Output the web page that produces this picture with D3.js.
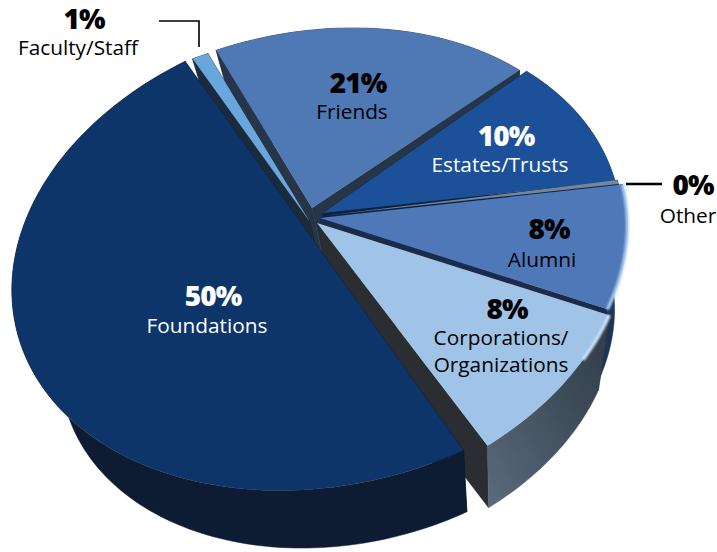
<!DOCTYPE html>
<html>
<head>
<meta charset="utf-8">
<script src="https://cdn.jsdelivr.net/npm/d3@7"></script>
<style>
html, body { margin: 0; background: #fff; }
text { font-family: "Open Sans", sans-serif; text-anchor: middle; }
</style>
</head>
<body>
<script>
// labels and printed values
var names = ["Foundations", "Faculty/Staff", "Friends", "Estates/Trusts", "Other", "Alumni", "Corporations/Organizations"];
var percents = [50, 1, 21, 10, 0, 8, 8];
// the drawing does not follow the printed values, so sweeps are read off the picture (degrees)
var sweeps = [178, 2.9, 59.6, 33.9, 1, 30.6, 36.6];
var gaps = [7.8, 3.1, -1.9, 0.3, 0.1, -1, 9];

var fills = ["#0d356b", "#6aa6de", "#4f79b5", "#1f5199", "#74869b", "#4f78b9", "#a0c4e8"];
var cutColors = ["#0b1c33", "#1f2c3e", "#263447", "#0e2242", "#0e2242", "#1b2b4b", "#2b2d30"];
var rimColors = ["#0b1c30", "#1f2c3e", "#263447", "#1a3358", "#1a3358", "#1d3557", "url(#corpSide)"];

// layout of each wedge: centre of its rim ellipse, tilt of that ellipse, and the tip of the wedge
var rimCentres = [[329.3, 253.4], [297, 268], [297, 267], [304, 264], [306, 262], [310, 262], [310, 272]];
var tilts = [-13.8, -13.8, -16, -13.8, -13.8, -13.8, -13.8];
var tips = [[325, 256.5], [310, 222], [312, 208], [323, 213], [322, 216], [320, 218], [317, 223]];
var wallOrder = [2, 1, 3, 4, 5, 6, 0];

var width = 717, height = 552,
    rx = 322, ry = 231,
    vanish = [498, 1066],
    shrink = 0.9;

var svg = d3.select("body").append("svg")
    .attr("width", width)
    .attr("height", height)
    .style("display", "block");

var defs = svg.append("defs");
var corpSide = defs.append("linearGradient").attr("id", "corpSide")
    .attr("x1", 0).attr("y1", 1).attr("x2", 1).attr("y2", 0);
corpSide.append("stop").attr("offset", 0).attr("stop-color", "#5a6b7d");
corpSide.append("stop").attr("offset", 0.6).attr("stop-color", "#3f4c59");
corpSide.append("stop").attr("offset", 1).attr("stop-color", "#2f3b49");
defs.append("filter").attr("id", "soft")
    .append("feGaussianBlur").attr("stdDeviation", 1.2);
defs.append("filter").attr("id", "edge")
    .append("feGaussianBlur").attr("stdDeviation", 0.4);

var pie = d3.pie().sort(null)
    .startAngle(165 * Math.PI / 180)
    .endAngle((165 + 360) * Math.PI / 180)
    .value(function(d, i) { return sweeps[i] + gaps[i]; });

var arcs = pie(names).map(function(a, i) {
    return { start: a.startAngle, end: a.startAngle + sweeps[i] * Math.PI / 180, i: i };
});

function rimPoint(angle, i) {
    var c = rimCentres[i], tilt = tilts[i] * Math.PI / 180;
    var X = rx * Math.sin(angle), Y = -ry * Math.cos(angle);
    return [c[0] + Math.cos(tilt) * X - Math.sin(tilt) * Y,
            c[1] + Math.sin(tilt) * X + Math.cos(tilt) * Y];
}
function rimPoints(a) {
    var steps = Math.max(2, Math.ceil((a.end - a.start) * 40));
    var angle = d3.scaleLinear().domain([0, steps]).range([a.start, a.end]);
    return d3.range(steps + 1).map(function(k) { return rimPoint(angle(k), a.i); });
}
function lowered(p) {
    return [vanish[0] + shrink * (p[0] - vanish[0]), vanish[1] + shrink * (p[1] - vanish[1])];
}
var line = d3.line();

var pieGroup = svg.append("g").attr("filter", "url(#edge)");

// side walls, back to front
wallOrder.forEach(function(i) {
    var rim = rimPoints(arcs[i]), tip = tips[i];
    [[tip, rim[0]], [rim[rim.length - 1], tip]].forEach(function(e) {
        pieGroup.append("path")
            .attr("d", line([e[0], e[1], lowered(e[1]), lowered(e[0])]) + "Z")
            .attr("fill", cutColors[i])
            .attr("stroke", cutColors[i]).attr("stroke-width", 0.5);
    });
    pieGroup.append("path")
        .attr("d", line(rim.concat(rim.map(lowered).reverse())) + "Z")
        .attr("fill", rimColors[i])
        .attr("stroke", rimColors[i]).attr("stroke-width", 0.5);
});

// top faces
arcs.forEach(function(a) {
    var rim = rimPoints(a);
    pieGroup.append("path")
        .attr("d", line([tips[a.i]].concat(rim)) + "Z")
        .attr("fill", fills[a.i]);
});

// light catching the rim of the two lighter right hand wedges
[5, 6].forEach(function(i) {
    var rim = rimPoints(arcs[i]);
    svg.append("path")
        .attr("d", line(i === 5 ? rim : rim.slice(0, Math.ceil(rim.length * 0.3))))
        .attr("fill", "none")
        .attr("stroke", i === 5 ? "#b5d6f5" : "#d4e7f8")
        .attr("stroke-width", 3)
        .attr("filter", "url(#soft)");
});

// printed labels
var labelLayout = [
    { x: 213, yp: 306, yn: [333], ink: "#fff", name: ["Foundations"], nx: 207 },
    { x: 84, yp: 29, yn: [55], ink: "#000", name: ["Faculty/Staff"], nx: 78 },
    { x: 358, yp: 93, yn: [119], ink: "#000", name: ["Friends"], nx: 352 },
    { x: 506, yp: 146, yn: [172], ink: "#fff", name: ["Estates/Trusts"], nx: 500 },
    { x: 693, yp: 195, yn: [223], ink: "#000", name: ["Other"], nx: 688 },
    { x: 549, yp: 239, yn: [267], ink: "#000", name: ["Alumni"], nx: 542 },
    { x: 507, yp: 319, yn: [345, 372], ink: "#000", name: ["Corporations/", "Organizations"], nx: 501 }
];
labelLayout.forEach(function(l, i) {
    svg.append("text")
        .attr("x", l.x).attr("y", l.yp)
        .attr("fill", l.ink)
        .style("font-size", "28px").style("font-weight", 800)
        .style("letter-spacing", "-1px")
        .text(percents[i] + "%");
    l.name.forEach(function(n, k) {
        svg.append("text")
            .attr("x", l.nx).attr("y", l.yn[k])
            .attr("fill", l.ink)
            .style("font-size", "20.8px")
            .text(n);
    });
});

// leader lines
svg.append("path").attr("d", line([[159, 21], [199, 21], [199, 47]]))
    .attr("fill", "none").attr("stroke", "#000").attr("stroke-width", 1.6);
svg.append("path").attr("d", line([[626, 184], [662, 184]]))
    .attr("fill", "none").attr("stroke", "#000").attr("stroke-width", 2.4);
</script>
</body>
</html>
